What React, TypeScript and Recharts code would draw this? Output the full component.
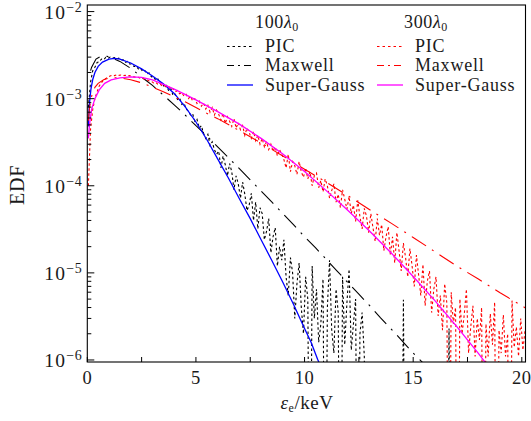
import React from 'react';
import { LineChart, Line, XAxis, YAxis } from 'recharts';

const FONT = '"Liberation Serif", "Times New Roman", serif';
const TEXT = '#1a1a1a';

// ---- axes ----
const X_TICKS = [0, 2.5, 5, 7.5, 10, 12.5, 15, 17.5, 20];
const X_LABELED = [0, 5, 10, 15, 20];
const Y_DECADES = [1e-6, 1e-5, 1e-4, 1e-3, 1e-2];
const Y_MINOR_MULT = [2, 3, 4, 5, 6, 7, 8, 9];
const X_DOMAIN: [number, number] = [0, 20.17];
const Y_DOMAIN: [number, number] = [0.948e-6, 1.19e-2];

// ---- PIC histograms (bin width 0.1 keV, first bin centre 0.05 keV) ----
const EMPTY = 1e-9; // empty bin (falls below the axis)
const BIN_WIDTH = 0.1;
const FIRST_BIN = 0.05;

const pic100 = [
  8.0e-4, 1.55e-3, 2.1e-3, 2.3e-3, 2.6e-3, 2.65e-3, 2.85e-3, 2.8e-3, 2.98e-3, 2.9e-3,
  3.0e-3, 2.93e-3, 2.97e-3, 2.86e-3, 2.92e-3, 2.78e-3, 2.8e-3, 2.62e-3, 2.68e-3, 2.5e-3,
  2.5e-3, 2.34e-3, 2.36e-3, 2.2e-3, 2.24e-3, 2.05e-3, 2.1e-3, 1.92e-3, 1.97e-3, 1.78e-3,
  1.8e-3, 1.62e-3, 1.68e-3, 1.5e-3, 1.54e-3, 1.34e-3, 1.42e-3, 1.22e-3, 1.3e-3, 1.08e-3,
  1.12e-3, 9.8e-4, 1.02e-3, 8.6e-4, 8.9e-4, 7.6e-4, 7.2e-4, 6.5e-4, 6.7e-4, 5.5e-4,
  5.8e-4, 4.6e-4, 4.9e-4, 4.0e-4, 3.5e-4, 3.9e-4, 2.9e-4, 3.2e-4, 2.6e-4, 2.3e-4,
  2.5e-4, 1.6e-4, 2.2e-4, 1.75e-4, 1.3e-4, 1.8e-4, 1.45e-4, 9.0e-5, 1.3e-4, 1.05e-4,
  7.2e-5, 1.1e-4, 8.0e-5, 5.2e-5, 6.0e-5, 8.2e-5, 4.0e-5, 6.5e-5, 3.2e-5, 5.6e-5,
  4.8e-5, 2.4e-5, 3.0e-5, 4.2e-5, 1.7e-5, 2.6e-5, 3.3e-5, 1.2e-5, 2.0e-5, 1.4e-5,
  2.4e-5, 9.0e-6, 5.5e-6, 1.5e-5, 1.0e-5, 3.0e-6, 7.5e-6, 1.3e-5, 4.0e-6, 2.0e-6,
  9.0e-6, 5.0e-6, EMPTY, 1.2e-5, 3.0e-6, 6.5e-6, 1.6e-6, 2.6e-6, 8.5e-6, EMPTY,
  4.0e-6, 1.4e-5, 2.2e-6, 1.2e-6, 6.5e-6, 3.5e-6, EMPTY, 9.0e-6, 1.5e-6, 4.5e-6,
  1.1e-5, 1.3e-6, 2.6e-6, 5.0e-6, EMPTY, 2.0e-6, 3.5e-6, 1.1e-6, EMPTY, EMPTY,
  EMPTY, EMPTY, EMPTY, EMPTY, EMPTY, EMPTY, EMPTY, EMPTY, EMPTY, EMPTY,
  EMPTY, EMPTY, EMPTY, EMPTY, EMPTY, 4.9e-6, EMPTY, EMPTY, EMPTY, EMPTY,
  EMPTY, EMPTY, EMPTY, EMPTY, EMPTY, EMPTY, EMPTY, EMPTY, EMPTY, EMPTY,
  EMPTY, EMPTY, EMPTY, EMPTY, EMPTY, EMPTY, 2.3e-6, EMPTY, EMPTY,
];

const pic300 = [
  1.0e-4, 4.5e-4, 7.5e-4, 1.0e-3, 1.2e-3, 1.4e-3, 1.52e-3, 1.65e-3, 1.7e-3, 1.78e-3,
  1.82e-3, 1.86e-3, 1.84e-3, 1.88e-3, 1.85e-3, 1.87e-3, 1.84e-3, 1.86e-3, 1.82e-3, 1.84e-3,
  1.8e-3, 1.78e-3, 1.75e-3, 1.76e-3, 1.7e-3, 1.72e-3, 1.66e-3, 1.64e-3, 1.6e-3, 1.58e-3,
  1.52e-3, 1.55e-3, 1.46e-3, 1.48e-3, 1.4e-3, 1.42e-3, 1.34e-3, 1.37e-3, 1.28e-3, 1.3e-3,
  1.2e-3, 1.24e-3, 1.14e-3, 1.17e-3, 1.07e-3, 1.12e-3, 1.0e-3, 1.06e-3, 9.4e-4, 1.0e-3,
  8.8e-4, 9.4e-4, 8.2e-4, 8.9e-4, 7.6e-4, 8.4e-4, 7.0e-4, 7.9e-4, 6.5e-4, 7.4e-4,
  6.6e-4, 5.7e-4, 6.8e-4, 5.2e-4, 6.2e-4, 5.5e-4, 4.8e-4, 5.9e-4, 4.6e-4, 5.3e-4,
  4.4e-4, 4.9e-4, 3.8e-4, 4.6e-4, 4.1e-4, 3.5e-4, 4.2e-4, 3.3e-4, 3.8e-4, 3.0e-4,
  3.5e-4, 2.8e-4, 3.2e-4, 2.6e-4, 3.0e-4, 2.5e-4, 2.8e-4, 2.2e-4, 2.6e-4, 2.3e-4,
  2.0e-4, 1.6e-4, 2.3e-4, 1.45e-4, 1.9e-4, 1.7e-4, 1.35e-4, 1.9e-4, 1.45e-4, 1.25e-4,
  1.6e-4, 1.2e-4, 1.45e-4, 1.0e-4, 1.3e-4, 1.4e-4, 9.5e-5, 1.15e-4, 8.5e-5, 1.2e-4,
  1.0e-4, 7.2e-5, 8.8e-5, 1.05e-4, 6.5e-5, 8.0e-5, 5.6e-5, 9.0e-5, 7.0e-5, 5.4e-5,
  7.5e-5, 4.8e-5, 6.0e-5, 3.9e-5, 6.8e-5, 4.4e-5, 3.2e-5, 5.5e-5, 4.5e-5, 2.9e-5,
  4.8e-5, 3.3e-5, 2.3e-5, 4.2e-5, 2.7e-5, 3.6e-5, 1.8e-5, 2.6e-5, 3.4e-5, 1.6e-5,
  2.6e-5, 1.3e-5, 2.9e-5, 1.8e-5, 1.05e-5, 2.2e-5, 1.5e-5, 9.0e-6, 1.9e-5, 1.2e-5,
  7.0e-6, 1.6e-5, 9.5e-6, 5.5e-6, 1.25e-5, 4.2e-6, 8.0e-6, 1.05e-5, 3.5e-6, 6.5e-6,
  9.0e-6, 3.2e-6, 5.5e-6, 2.2e-6, 7.5e-6, 4.5e-6, EMPTY, 6.0e-6, 2.6e-6, 4.0e-6,
  EMPTY, 5.0e-6, 2.0e-6, 3.3e-6, 6.5e-6, 1.2e-6, 2.4e-6, 4.2e-6, 1.1e-6, 3.0e-6,
  1.7e-6, 4.0e-6, EMPTY, 2.6e-6, 1.1e-6, 3.4e-6, 1.5e-6, 4.6e-6, EMPTY, 2.2e-6,
  1.2e-6, 3.3e-6, 1.1e-6, 2.0e-6, EMPTY, 4.8e-6, 1.4e-6, 2.4e-6, 1.1e-6, 3.0e-6,
  1.3e-6, 2.2e-6,
];

// ---- fitted curves ----
const maxwell100X = [0.15, 0.2, 0.4, 0.6, 0.8, 1.0, 1.5, 2.0, 2.5, 3.0, 3.5, 4.0, 4.5, 5.0, 5.5, 6.0, 6.5, 7.0, 7.5, 8.0, 8.5, 9.0, 9.5, 10.0, 10.5, 11.0, 11.5, 12.0, 12.5, 13.0, 13.5, 14.0, 14.5, 15.0, 15.5];
const maxwell100Y = [2.1e-3, 2.3e-3, 2.85e-3, 3.05e-3, 3.09e-3, 3.03e-3, 2.68e-3, 2.23e-3, 1.77e-3, 1.42e-3, 1.1e-3, 8.5e-4, 6.5e-4, 4.9e-4, 3.75e-4, 2.8e-4, 2.1e-4, 1.57e-4, 1.17e-4, 8.7e-5, 6.5e-5, 4.8e-5, 3.55e-5, 2.6e-5, 1.95e-5, 1.43e-5, 1.05e-5, 7.7e-6, 5.7e-6, 4.2e-6, 3.05e-6, 2.25e-6, 1.65e-6, 1.2e-6, 0.9e-6];

const superGauss100X = [0.05, 0.08, 0.12, 0.17, 0.25, 0.35, 0.5, 0.7, 1.0, 1.25, 1.5, 2.0, 2.5, 3.0, 3.5, 4.0, 4.5, 5.0, 5.5, 6.0, 6.5, 7.0, 7.5, 8.0, 8.5, 9.0, 9.5, 10.0, 10.3, 10.6, 10.9];
const superGauss100Y = [4.8e-4, 7.4e-4, 1.0e-3, 1.3e-3, 1.66e-3, 2.0e-3, 2.35e-3, 2.63e-3, 2.85e-3, 2.9e-3, 2.85e-3, 2.57e-3, 2.2e-3, 1.82e-3, 1.48e-3, 1.15e-3, 8.1e-4, 5.4e-4, 3.4e-4, 2.04e-4, 1.22e-4, 7.1e-5, 4.2e-5, 2.4e-5, 1.38e-5, 7.8e-6, 4.3e-6, 2.3e-6, 1.6e-6, 1.02e-6, 6.8e-7];

const maxwell300X = [0.05, 0.1, 0.2, 0.35, 0.5, 0.75, 1.0, 1.3, 1.6, 2.0, 2.5, 3.0, 3.5, 4.0, 4.5, 5.0, 5.5, 6.0, 7.0, 8.0, 9.0, 10.0, 11.0, 12.0, 13.0, 14.0, 15.0, 16.0, 17.0, 18.0, 19.0, 20.0, 20.2];
const maxwell300Y = [5.6e-4, 7.8e-4, 1.07e-3, 1.35e-3, 1.5e-3, 1.65e-3, 1.72e-3, 1.74e-3, 1.72e-3, 1.65e-3, 1.52e-3, 1.36e-3, 1.2e-3, 1.05e-3, 9.2e-4, 7.9e-4, 6.8e-4, 5.9e-4, 4.3e-4, 3.1e-4, 2.2e-4, 1.55e-4, 1.1e-4, 7.7e-5, 5.3e-5, 3.7e-5, 2.55e-5, 1.75e-5, 1.2e-5, 8.5e-6, 5.9e-6, 4.2e-6, 3.9e-6];

const superGauss300X = [0.05, 0.1, 0.2, 0.35, 0.55, 0.8, 1.1, 1.5, 2.0, 2.5, 3.0, 3.5, 4.0, 4.5, 5.0, 6.0, 7.0, 8.0, 9.0, 10.0, 11.0, 12.0, 13.0, 14.0, 15.0, 16.0, 17.0, 18.0, 18.3, 18.6];
const superGauss300Y = [3.5e-4, 5.0e-4, 7.6e-4, 1.0e-3, 1.26e-3, 1.5e-3, 1.64e-3, 1.73e-3, 1.78e-3, 1.76e-3, 1.64e-3, 1.46e-3, 1.29e-3, 1.12e-3, 9.7e-4, 7.1e-4, 5.1e-4, 3.5e-4, 2.32e-4, 1.46e-4, 8.8e-5, 5.2e-5, 3.0e-5, 1.68e-5, 9.1e-6, 4.8e-6, 2.43e-6, 1.19e-6, 9.5e-7, 7.7e-7];

// ---- series styles ----
const BLACK = '#000000';
const BLUE = '#0000ff';
const RED = '#ff0000';
const MAGENTA = '#ff00ff';
const DOT = '2.5 2.5';
const DASHDOT = '17 7 2 7';

const binned = (ys: number[]) => ys.map((y, i) => ({ x: +(FIRST_BIN + i * BIN_WIDTH).toFixed(2), y }));
const paired = (xs: number[], ys: number[]) => xs.map((x, i) => ({ x, y: ys[i] }));

const pic100Data = binned(pic100);
const pic300Data = binned(pic300);
const maxwell100Data = paired(maxwell100X, maxwell100Y);
const superGauss100Data = paired(superGauss100X, superGauss100Y);
const maxwell300Data = paired(maxwell300X, maxwell300Y);
const superGauss300Data = paired(superGauss300X, superGauss300Y);

const yTicks: number[] = [];
Y_DECADES.forEach((d, i) => {
  yTicks.push(d);
  if (i < Y_DECADES.length - 1) Y_MINOR_MULT.forEach((m) => yTicks.push(m * d));
});

const YTick = (props: any) => {
  const { x, y, payload } = props;
  const v = payload.value;
  const lg = Math.log10(v);
  const e = Math.round(lg);
  const major = Math.abs(lg - e) < 1e-6;
  return (
    <g>
      <line x1={x} y1={y} x2={x + (major ? 7 : 4)} y2={y} stroke="#000" strokeWidth={1} />
      {major && (
        <text x={x - 5} y={y + 7.5} textAnchor="end" fontFamily={FONT} fontSize={19.5} fill={TEXT} letterSpacing={1.2}>
          10
          <tspan dy={-7.5} fontSize={14} letterSpacing={0.6}>{'\u2212' + Math.abs(e)}</tspan>
        </text>
      )}
    </g>
  );
};

const XTick = (props: any) => {
  const { x, y, payload } = props;
  const v = payload.value;
  return (
    <g>
      <line x1={x} y1={y} x2={x} y2={y - 5} stroke="#000" strokeWidth={1} />
      {X_LABELED.includes(v) && (
        <text x={x} y={y + 21.5} textAnchor="middle" fontFamily={FONT} fontSize={18.5} fill={TEXT} letterSpacing={0.5}>
          {v}
        </text>
      )}
    </g>
  );
};

const LegendRow = ({ x, y, color, dash, width, label }: any) => (
  <g>
    <line x1={x} y1={y} x2={x + 26} y2={y} stroke={color} strokeWidth={width} strokeDasharray={dash} />
    <text x={x + 38} y={y + 5.5} fontFamily={FONT} fontSize={18} fill={TEXT} letterSpacing={0.8}>
      {label}
    </text>
  </g>
);

export default function App() {
  return (
    <div style={{ position: 'absolute', left: 0, top: 0, width: 531, height: 421, background: '#fff' }}>
      <LineChart width={531} height={421} margin={{ top: 5, right: 5.5, bottom: 0, left: 0.3 }}>
        <XAxis
          dataKey="x"
          type="number"
          domain={X_DOMAIN}
          ticks={X_TICKS}
          interval={0}
          allowDataOverflow
          axisLine={false}
          tickLine={false}
          tickSize={0}
          tickMargin={0}
          height={59}
          tick={<XTick />}
        />
        <YAxis
          type="number"
          scale="log"
          domain={Y_DOMAIN}
          ticks={yTicks}
          interval={0}
          allowDataOverflow
          axisLine={false}
          tickLine={false}
          tickSize={0}
          tickMargin={0}
          width={87}
          tick={<YTick />}
        />
        <Line data={pic100Data} dataKey="y" stroke={BLACK} strokeWidth={1.1} strokeDasharray={DOT} dot={false} activeDot={false} isAnimationActive={false} />
        <Line data={maxwell100Data} dataKey="y" stroke={BLACK} strokeWidth={1.1} strokeDasharray={DASHDOT} dot={false} activeDot={false} isAnimationActive={false} />
        <Line data={superGauss100Data} dataKey="y" stroke={BLUE} strokeWidth={1.3} dot={false} activeDot={false} isAnimationActive={false} />
        <Line data={pic300Data} dataKey="y" stroke={RED} strokeWidth={1.1} strokeDasharray={DOT} dot={false} activeDot={false} isAnimationActive={false} />
        <Line data={maxwell300Data} dataKey="y" stroke={RED} strokeWidth={1.1} strokeDasharray={DASHDOT} dot={false} activeDot={false} isAnimationActive={false} />
        <Line data={superGauss300Data} dataKey="y" stroke={MAGENTA} strokeWidth={1.3} dot={false} activeDot={false} isAnimationActive={false} />
      </LineChart>
      <svg width={531} height={421} style={{ position: 'absolute', left: 0, top: 0, pointerEvents: 'none' }}>
        <rect x={87.3} y={5} width={438.2} height={357} fill="none" stroke="#000" strokeWidth={1.1} />
        <text x={277} y={28} textAnchor="middle" fontFamily={FONT} fontSize={18} fill={TEXT} letterSpacing={0.6}>
          100<tspan fontStyle="italic">λ</tspan><tspan fontSize={12} dy={3}>0</tspan>
        </text>
        <text x={426} y={28} textAnchor="middle" fontFamily={FONT} fontSize={18} fill={TEXT} letterSpacing={0.6}>
          300<tspan fontStyle="italic">λ</tspan><tspan fontSize={12} dy={3}>0</tspan>
        </text>
        <LegendRow x={227} y={46.5} color={BLACK} dash="2.5 3" width={1.1} label="PIC" />
        <LegendRow x={227} y={65.5} color={BLACK} dash="7 4 2 4" width={1.1} label="Maxwell" />
        <LegendRow x={227} y={85} color={BLUE} width={1.3} label="Super-Gauss" />
        <LegendRow x={377} y={46.5} color={RED} dash="2.5 3" width={1.1} label="PIC" />
        <LegendRow x={377} y={65.5} color={RED} dash="7 4 2 4" width={1.1} label="Maxwell" />
        <LegendRow x={377} y={85} color={MAGENTA} width={1.3} label="Super-Gauss" />
        <text transform="rotate(-90, 24, 185)" x={24} y={185} textAnchor="middle" fontFamily={FONT} fontSize={20} fill={TEXT} letterSpacing={0.8}>
          EDF
        </text>
        <text x={307} y={409} textAnchor="middle" fontFamily={FONT} fontSize={19} fill={TEXT} letterSpacing={0.5}>
          <tspan fontStyle="italic">ε</tspan><tspan fontSize={12} dy={3}>e</tspan><tspan dy={-3}>/keV</tspan>
        </text>
      </svg>
    </div>
  );
}
